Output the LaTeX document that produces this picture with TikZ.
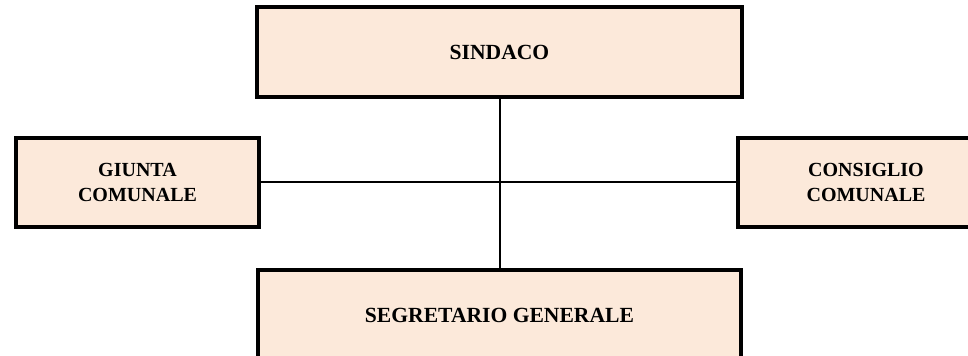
\documentclass[tikz,border=0pt]{standalone}
\usepackage{fontspec}
\setmainfont{Liberation Serif}
\usepackage{tikz}
\usetikzlibrary{positioning}
\definecolor{peach}{HTML}{FCE9DA}
\tikzstyle{office}=[draw,line width=2.3pt,fill=peach,rectangle,align=center,inner sep=0pt,font=\bfseries\fontsize{15}{18.75}\selectfont]
\tikzstyle{bigoffice}=[office,font=\bfseries\fontsize{16.2}{19}\selectfont]
\tikzstyle{link}=[line width=1.5pt]

\begin{document}
\begin{tikzpicture}[x=0.75pt,y=-0.75pt]
\useasboundingbox (0,0) rectangle (968,356);
\node [bigoffice,minimum width=363.75pt,minimum height=67.5pt] (sindaco) at (499.5,52) {SINDACO};
\node [office,minimum width=182.25pt,minimum height=66.75pt] (giunta) at (137.5,182.5) {GIUNTA\\COMUNALE};
\node [office,minimum width=192pt,minimum height=66.75pt] (consiglio) at (866,182.5) {CONSIGLIO\\COMUNALE};
\node [bigoffice,minimum width=362.25pt,minimum height=67.5pt] (segretario) at (499.5,315) {SEGRETARIO GENERALE};
\draw [link] (sindaco) -- (segretario);
\draw [link] (giunta) -- (consiglio);
\end{tikzpicture}
\end{document}
